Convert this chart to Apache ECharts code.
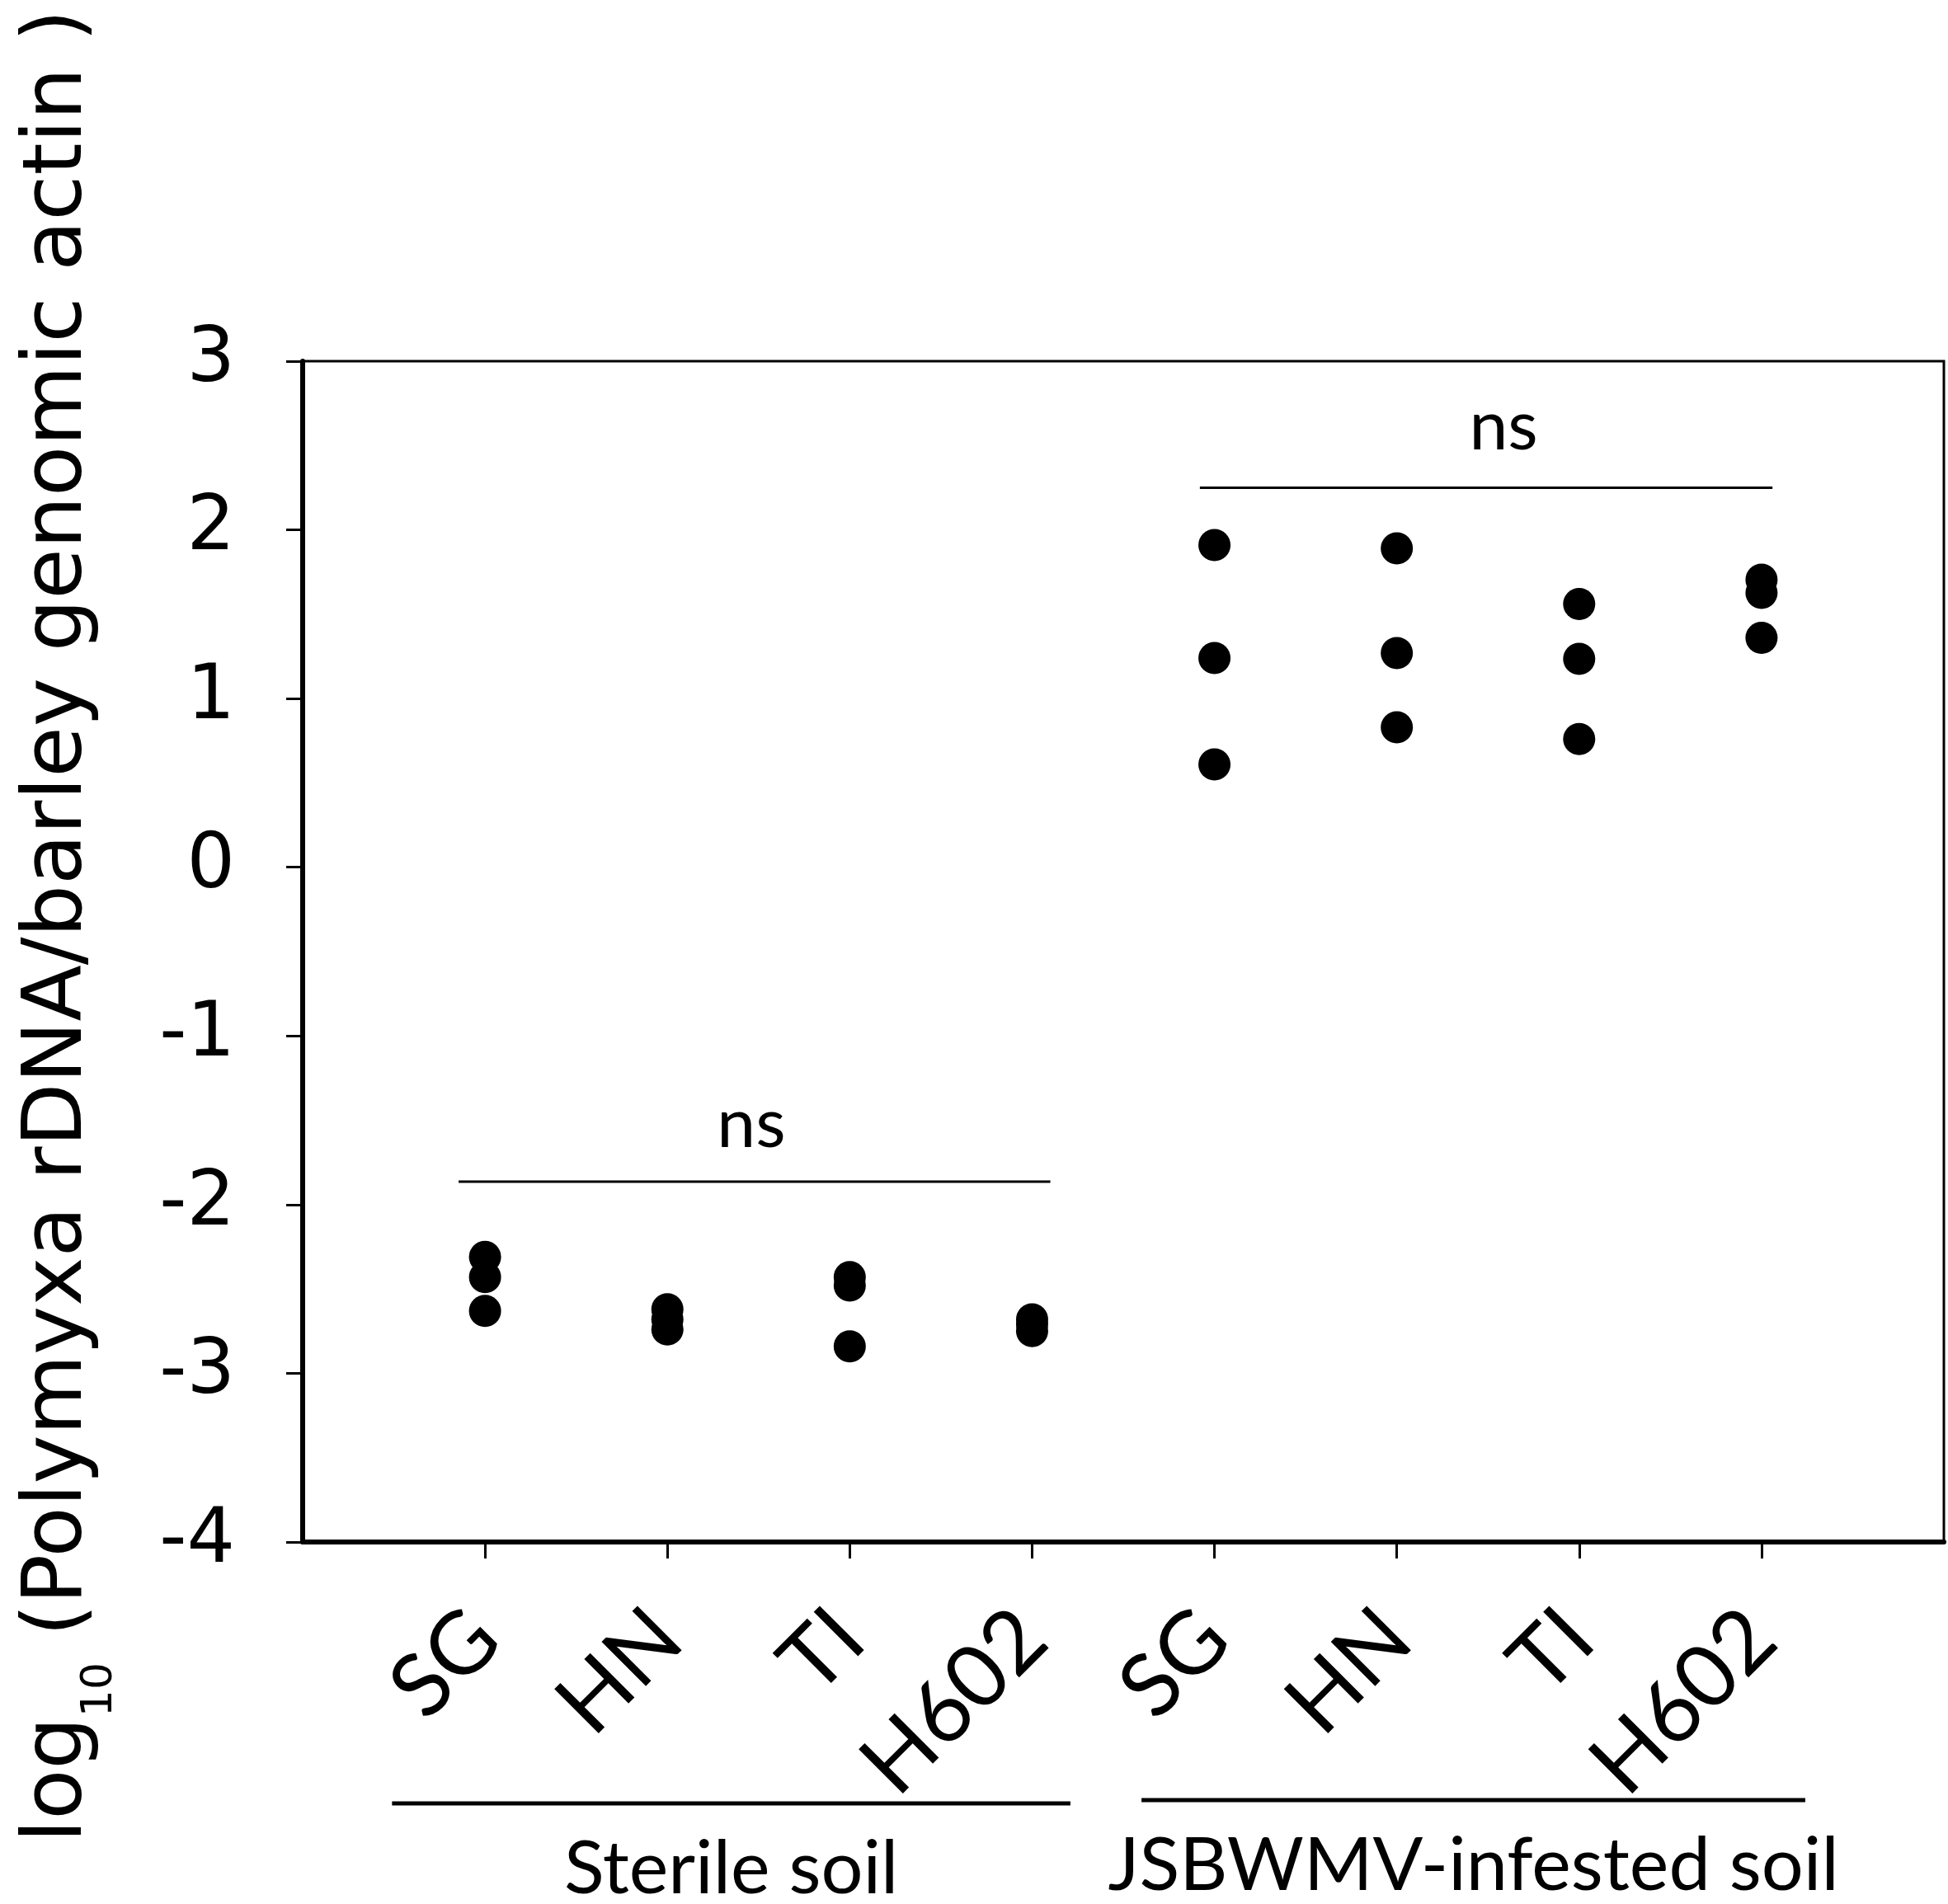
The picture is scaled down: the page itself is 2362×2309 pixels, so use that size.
<!DOCTYPE html>
<html>
<head>
<meta charset="utf-8">
<script src="https://cdn.jsdelivr.net/npm/echarts@6/dist/echarts.min.js"></script>
<style>
html,body{margin:0;padding:0;background:#fff;}
#c{width:2362px;height:2309px;}
</style>
</head>
<body>
<div id="c"></div>
<script>
// ---- data ----
var categories = ['SG', 'HN', 'TI', 'H602', 'SG', 'HN', 'TI', 'H602'];
var groupNames = ['Sterile soil', 'JSBWMV-infested soil'];
var sterileValues = [
  [-2.31, -2.43, -2.63],
  [-2.62, -2.68, -2.74],
  [-2.43, -2.48, -2.84],
  [-2.68, -2.71, -2.75]
];
var infestedValues = [
  [1.91, 1.24, 0.61],
  [1.89, 1.27, 0.83],
  [1.56, 1.235, 0.76],
  [1.705, 1.627, 1.36]
];
var yTicks = [-4, -3, -2, -1, 0, 1, 2, 3];
var sigLabels = ['ns', 'ns'];
// bracket lines (data units): [xStart, xEnd, y]
var sigBrackets = [[0.855, 4.10, -1.864], [4.92, 8.06, 2.25]];
// text anchor (data units)
var sigText = [[2.46, -1.527], [6.585, 2.61]];
// group lines under axis (data units)
var groupLines = [[0.49, 4.21, -5.55], [4.60, 8.24, -5.53]];

// ---- build ----
var points = [];
sterileValues.forEach(function (arr, i) {
  arr.forEach(function (v) { points.push([i + 1, v]); });
});
infestedValues.forEach(function (arr, i) {
  arr.forEach(function (v) { points.push([i + 5, v]); });
});
var xPositions = categories.map(function (c, i) { return i + 1; });

var chart = echarts.init(document.getElementById('c'));
var option = {
  animation: false,
  backgroundColor: '#fff',
  grid: {
    left: 367, right: 5, top: 438, bottom: 439,
    show: true, borderColor: '#000', borderWidth: 3, backgroundColor: 'transparent'
  },
  xAxis: {
    type: 'value', min: 0, max: 9, interval: 1,
    splitLine: { show: false },
    axisLine: { show: true, onZero: false, lineStyle: { color: '#000', width: 6 } },
    axisTick: { show: true, length: 20, customValues: xPositions, lineStyle: { color: '#000', width: 3 } },
    axisLabel: {
      show: true, rotate: 45, margin: 100, customValues: xPositions,
      fontFamily: 'Lato', fontSize: 106, color: '#000',
      formatter: function (v) { return categories[Math.round(v) - 1] || ''; }
    }
  },
  yAxis: {
    type: 'value', min: yTicks[0], max: yTicks[yTicks.length - 1], interval: 1,
    splitLine: { show: false },
    axisLine: { show: true, onZero: false, lineStyle: { color: '#000', width: 6 } },
    axisTick: { show: true, length: 20, lineStyle: { color: '#000', width: 3 } },
    axisLabel: {
      margin: 82, fontFamily: 'DejaVu Sans', fontSize: 92, color: '#000'
    }
  },
  series: [{
    type: 'scatter',
    data: points,
    symbol: 'circle',
    symbolSize: 39,
    itemStyle: { color: '#000', opacity: 1 },
    clip: false
  }]
};
chart.setOption(option);

function px(x, y) { return chart.convertToPixel({ gridIndex: 0 }, [x, y]); }

var graphics = [];
sigBrackets.forEach(function (b) {
  var p1 = px(b[0], b[2]), p2 = px(b[1], b[2]);
  graphics.push({ type: 'line', shape: { x1: p1[0], y1: p1[1], x2: p2[0], y2: p2[1] },
    style: { stroke: '#000', lineWidth: 3 } });
});
sigText.forEach(function (t, i) {
  var p = px(t[0], t[1]);
  graphics.push({ type: 'text', x: p[0], y: p[1],
    style: { text: sigLabels[i], fontFamily: 'Lato', fontSize: 84, fill: '#000',
      align: 'center', verticalAlign: 'middle' } });
});
groupLines.forEach(function (g, i) {
  var p1 = px(g[0], g[2]), p2 = px(g[1], g[2]);
  graphics.push({ type: 'line', shape: { x1: p1[0], y1: p1[1], x2: p2[0], y2: p2[1] },
    style: { stroke: '#000', lineWidth: 5 } });
  graphics.push({ type: 'text', x: (p1[0] + p2[0]) / 2, y: p1[1] + 80,
    style: { text: groupNames[i], fontFamily: 'Lato', fontSize: 90, fill: '#000',
      align: 'center', verticalAlign: 'middle' } });
});
// y axis title
graphics.push({
  type: 'text', x: 72, y: 1123, rotation: Math.PI / 2,
  style: {
    text: '{a|log}{b|10}{a| (Polymyxa rDNA/barley genomic actin )}',
    align: 'center', verticalAlign: 'middle', fill: '#000',
    rich: {
      a: { fontFamily: 'DejaVu Sans', fontSize: 100, lineHeight: 150, fill: '#000' },
      b: { fontFamily: 'DejaVu Sans', fontSize: 52, verticalAlign: 'bottom', fill: '#000' }
    }
  }
});
chart.setOption({ graphic: graphics });
</script>
</body>
</html>
